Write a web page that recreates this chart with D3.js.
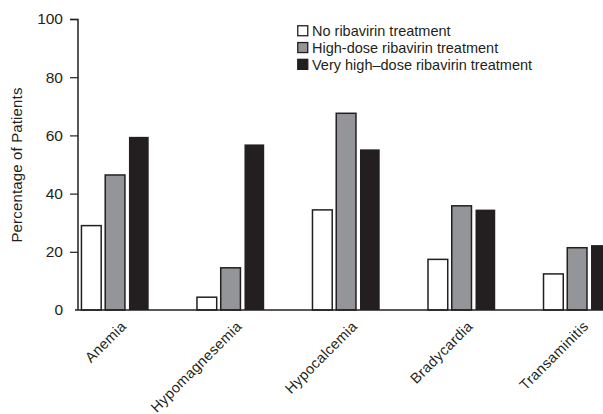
<!DOCTYPE html>
<html>
<head>
<meta charset="utf-8">
<script src="https://cdn.jsdelivr.net/npm/d3@7"></script>
<style>
  html, body { margin: 0; padding: 0; background: #fff; }
  svg { display: block; font-family: "Liberation Sans", Arial, Helvetica, sans-serif; }
</style>
</head>
<body>
<svg id="chart" width="603" height="414"></svg>
<script>
// Adverse events by treatment arm
const categories = ["Anemia", "Hypomagnesemia", "Hypocalcemia", "Bradycardia", "Transaminitis"];
const seriesNames = ["No ribavirin treatment", "High-dose ribavirin treatment", "Very high\u2013dose ribavirin treatment"];
const noRibavirin = [29.0, 4.4, 34.4, 17.4, 12.4];
const highDose = [46.4, 14.5, 67.6, 35.8, 21.4];
const veryHighDose = [59.5, 56.9, 55.2, 34.5, 22.3];
const yTicks = [0, 20, 40, 60, 80, 100];

const seriesValues = [noRibavirin, highDose, veryHighDose];
const fills = ["#ffffff", "#939598", "#231f20"];
const ink = "#231f20";
const fontFamily = "'Liberation Sans', Arial, Helvetica, sans-serif";

const svg = d3.select("#chart");

const y = d3.scaleLinear().domain([0, 100]).range([310, 19]);

const x = d3.scaleBand()
  .domain(categories)
  .range([80.7, 611.5])
  .paddingInner(0.405)
  .paddingOuter(0);

const xs = d3.scaleBand()
  .domain(d3.range(seriesNames.length))
  .range([0, x.bandwidth()])
  .paddingInner(0.106)
  .paddingOuter(0);

// Bars
const groups = svg.append("g").selectAll("g")
  .data(categories)
  .join("g")
  .attr("transform", d => `translate(${x(d)},0)`);

groups.selectAll("rect")
  .data((cat, ci) => seriesValues.map((vals, si) => ({ si, v: vals[ci] })))
  .join("rect")
  .attr("x", d => xs(d.si) + 0.75)
  .attr("width", xs.bandwidth() - 1.5)
  .attr("y", d => y(d.v))
  .attr("height", d => y(0) - y(d.v))
  .attr("fill", d => fills[d.si])
  .attr("stroke", d => d.si === 2 ? "none" : ink)
  .attr("stroke-width", 1.5);

// Y axis
const yAxis = svg.append("g")
  .attr("transform", "translate(78,0)")
  .call(d3.axisLeft(y).tickValues(yTicks).tickSize(8).tickPadding(7).tickFormat(d3.format("d")));
yAxis.select(".domain").attr("stroke", ink).attr("stroke-width", 1.5).attr("d", "M-8,19.5H0V310");
yAxis.selectAll(".tick line").attr("stroke", ink).attr("stroke-width", 1.2);
yAxis.selectAll(".tick text")
  .attr("fill", ink)
  .style("font-size", "15.5px")
  .style("font-family", fontFamily);
yAxis.selectAll(".tick").filter(d => d === 0).select("line").remove();

// X baseline
svg.append("line")
  .attr("x1", 75).attr("x2", 603)
  .attr("y1", y(0)).attr("y2", y(0))
  .attr("stroke", ink).attr("stroke-width", 1.5);

// Category labels, rotated
svg.append("g").selectAll("text")
  .data(categories)
  .join("text")
  .attr("transform", d => `translate(${x(d) + x.bandwidth() / 2 + 5},${320}) rotate(-45)`)
  .attr("text-anchor", "end")
  .attr("dy", "0.7em")
  .attr("fill", ink)
  .style("font-size", "14.5px")
  .style("letter-spacing", "0.35px")
  .style("font-family", fontFamily)
  .text(d => d);

// Y axis title
svg.append("text")
  .attr("transform", "translate(22,165) rotate(-90)")
  .attr("text-anchor", "middle")
  .attr("fill", ink)
  .style("font-size", "15px")
  .style("letter-spacing", "0.15px")
  .style("font-family", fontFamily)
  .text("Percentage of Patients");

// Legend
const legend = svg.append("g").attr("transform", "translate(297,25)");
const rows = legend.selectAll("g")
  .data(seriesNames)
  .join("g")
  .attr("transform", (d, i) => `translate(0,${i * 16.8})`);
rows.append("rect")
  .attr("x", 0.75).attr("y", 0.75)
  .attr("width", 10).attr("height", 10)
  .attr("fill", (d, i) => fills[i])
  .attr("stroke", ink)
  .attr("stroke-width", 1.3);
rows.append("text")
  .attr("x", 15)
  .attr("y", 6)
  .attr("dy", "0.35em")
  .attr("fill", ink)
  .style("font-size", "14.5px")
  .style("font-family", fontFamily)
  .text(d => d);
</script>
</body>
</html>
